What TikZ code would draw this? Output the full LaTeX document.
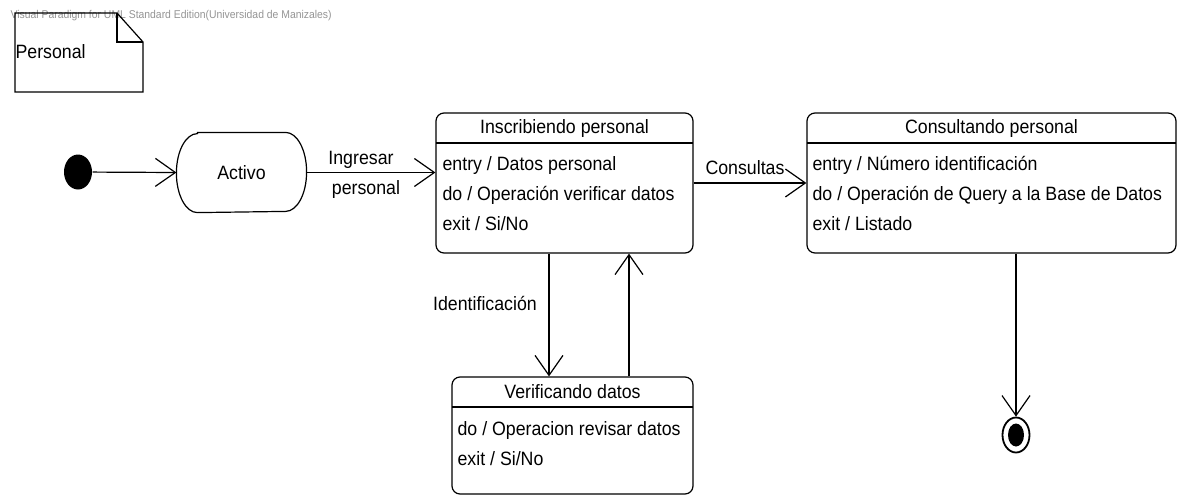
\documentclass[tikz,border=0pt]{standalone}
\usepackage{fontspec}
\setmainfont{Liberation Sans}[FakeStretch=0.92]
\usetikzlibrary{arrows.meta,shapes.geometric}
\begin{document}
\begin{tikzpicture}[x=1pt,y=-1pt,line width=1.2pt,
  txt/.style={inner sep=0pt,font=\fontsize{19.3}{23}\selectfont},
  lft/.style={txt,anchor=mid west},
  box/.style={draw,rectangle,rounded corners=8pt,inner sep=0pt},
  arr/.style={-{Straight Barb[length=20pt,width=28pt,line width=1.2pt]}}]
\useasboundingbox (0,0) rectangle (1179,496);
% watermark
\node[inner sep=0pt,anchor=mid west,text=black!42,font=\fontsize{11.3}{13}\selectfont] (wm) at (10,16) {Visual Paradigm for UML Standard Edition(Universidad de Manizales)};
% note
\draw (15,13) -- (117,13) -- (143,42) -- (143,92) -- (15,92) -- cycle;
\draw (117,13) -- (117,42) -- (143,42);
\node[lft,anchor=mid west] (note) at (15,56) {Personal};
% initial
\node[ellipse,fill=black,inner sep=0pt,minimum width=28pt,minimum height=35pt] (init) at (78,172) {};
% Activo
\node[txt,minimum width=129pt,minimum height=79pt] (activo) at (241.5,172.5) {Activo};
\draw ([xshift=21pt]activo.north west) -- ([xshift=-21pt]activo.north east)
  arc[start angle=90,end angle=-90,x radius=21pt,y radius=39.5pt]
  -- ([xshift=21pt]activo.south west)
  arc[start angle=270,end angle=90,x radius=21pt,y radius=39.5pt] -- cycle;
% Inscribiendo personal
\node[box,minimum width=257pt,minimum height=140pt] (insc) at (564.5,183) {};
\draw (436,143) -- (693,143);
\node[txt] (inscT) at (564.5,129) {Inscribiendo personal};
\node[lft] (insc1) at (442,168) {entry / Datos personal};
\node[lft] (insc2) at (442,198) {do / Operación verificar datos};
\node[lft] (insc3) at (442,228) {exit / Si/No};
% Consultando personal
\node[box,minimum width=369pt,minimum height=140pt] (cons) at (991.5,183) {};
\draw (807,143) -- (1176,143);
\node[txt] (consT) at (991.5,129) {Consultando personal};
\node[lft] (cons1) at (812,168) {entry / Número identificación};
\node[lft] (cons2) at (812,198) {do / Operación de Query a la Base de Datos};
\node[lft] (cons3) at (812,228) {exit / Listado};
% Verificando datos
\node[box,minimum width=241pt,minimum height=117pt] (verif) at (572.5,435.5) {};
\draw (452,407) -- (693,407);
\node[txt] (verifT) at (572.5,392) {Verificando datos};
\node[lft] (verif1) at (457,433) {do / Operacion revisar datos};
\node[lft] (verif2) at (457,463) {exit / Si/No};
% final
\node[ellipse,draw,line width=1.8pt,inner sep=0pt,minimum width=27pt,minimum height=35pt] (fin) at (1016,435) {};
\node[ellipse,fill=black,inner sep=0pt,minimum width=16pt,minimum height=23pt] (finin) at (fin) {};
% connectors
\coordinate (dn) at (549,300);
\coordinate (up) at (629,300);
\coordinate (fx) at (1016,300);
\draw[arr] (init) -- (activo.west);
\draw[arr] (activo.east) -- (activo.east -| insc.west);
\draw[arr] (insc.east) -- (cons.west);
\draw[arr] (insc.south -| dn) -- (verif.north -| dn);
\draw[arr] (verif.north -| up) -- (insc.south -| up);
\draw[arr] (cons.south -| fx) -- (fin.north);
% labels
\node[txt] (lIng) at (361,160) {Ingresar};
\node[txt] (lPer) at (366,190) {personal};
\node[txt] (lCon) at (745,168) {Consultas};
\node[txt] (lId) at (485,303) {Identificación};
\end{tikzpicture}
\end{document}
